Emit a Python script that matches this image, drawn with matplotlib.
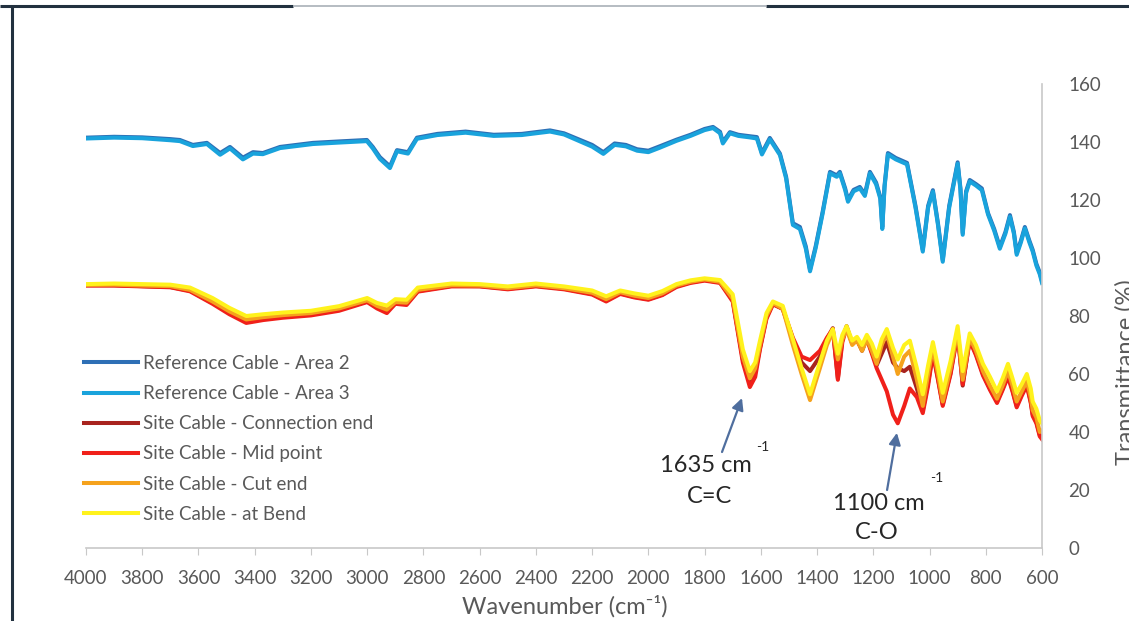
import matplotlib
matplotlib.use("Agg")
import matplotlib.pyplot as plt
from matplotlib.lines import Line2D

plt.rcParams['font.family'] = ['Lato', 'DejaVu Sans']

# FTIR spectra: reference cable areas
wn_ref = [4000, 3900, 3800, 3700, 3666, 3620, 3570, 3523, 3488, 3442,
          3406, 3371, 3310, 3193, 3100, 3001, 2980, 2955, 2919, 2894,
          2855, 2823, 2750, 2650, 2550, 2450, 2350, 2300, 2250, 2200,
          2160, 2120, 2080, 2040, 2000, 1960, 1900, 1850, 1800, 1770,
          1745, 1735, 1710, 1680, 1640, 1614, 1596, 1568, 1532, 1510,
          1486, 1461, 1440, 1425, 1405, 1380, 1354, 1330, 1319, 1300,
          1290, 1270, 1248, 1230, 1212, 1190, 1175, 1168, 1160, 1148,
          1120, 1080, 1050, 1024, 1005, 988, 970, 953, 930, 910,
          900, 890, 882, 870, 857, 835, 814, 792, 770, 750,
          730, 714, 700, 690, 675, 661, 645, 633, 620, 608,
          600]

ref_area2 = [141.5, 141.8, 141.6, 141.0, 140.7, 139.0, 139.7, 136.2, 138.3, 134.6,
             136.5, 136.2, 138.3, 139.7, 140.2, 140.7, 138.3, 134.8, 131.6, 137.2,
             136.5, 141.5, 142.8, 143.6, 142.5, 142.8, 144.0, 143.0, 141.0, 139.0,
             136.5, 139.5, 139.0, 137.5, 137.0, 138.5, 140.8, 142.5, 144.5, 145.2,
             143.5, 140.0, 143.4, 142.5, 142.0, 141.7, 136.2, 141.4, 136.0, 128.0,
             112.0, 110.7, 104.0, 96.0, 104.0, 116.0, 129.7, 128.5, 129.7, 124.0,
             120.0, 123.5, 124.5, 122.0, 129.7, 126.0, 121.0, 110.7, 125.0, 136.2,
             134.5, 132.8, 118.0, 102.8, 118.0, 123.4, 112.0, 99.3, 118.0, 128.0,
             133.0, 124.0, 108.6, 123.0, 126.9, 125.5, 124.0, 115.5, 110.0, 103.8,
             109.0, 114.8, 109.0, 101.7, 106.0, 110.7, 106.0, 102.8, 98.0, 95.0,
             92.0]

ref_area3 = [141.2, 141.5, 141.3, 140.6, 140.3, 138.6, 139.3, 135.6, 137.8, 134.0,
             136.0, 135.8, 137.9, 139.3, 139.8, 140.3, 137.8, 134.2, 131.0, 136.8,
             136.0, 141.1, 142.4, 143.2, 142.1, 142.4, 143.6, 142.6, 140.5, 138.4,
             135.9, 139.0, 138.5, 137.0, 136.5, 138.0, 140.4, 142.1, 144.1, 144.8,
             143.0, 139.5, 143.0, 142.1, 141.6, 141.2, 135.7, 140.9, 135.5, 127.4,
             111.4, 110.0, 103.2, 95.4, 103.4, 115.4, 129.2, 128.0, 129.2, 123.4,
             119.4, 123.0, 124.0, 121.4, 129.2, 125.4, 120.4, 110.0, 124.4, 135.7,
             134.0, 132.3, 117.4, 102.2, 117.4, 122.9, 111.4, 98.7, 117.4, 127.4,
             132.5, 123.4, 108.0, 122.4, 126.4, 125.0, 123.4, 115.0, 109.4, 103.2,
             108.4, 114.2, 108.4, 101.1, 105.4, 110.2, 105.4, 102.2, 97.4, 94.4,
             91.4]

# FTIR spectra: site cable samples
wn_site = [4000, 3900, 3800, 3700, 3630, 3550, 3490, 3430, 3370, 3300,
           3200, 3100, 3000, 2965, 2930, 2900, 2860, 2820, 2700, 2600,
           2500, 2400, 2300, 2200, 2150, 2100, 2050, 2000, 1950, 1900,
           1850, 1800, 1745, 1700, 1664, 1639, 1620, 1603, 1580, 1557,
           1522, 1486, 1455, 1425, 1390, 1365, 1344, 1326, 1310, 1295,
           1275, 1258, 1240, 1223, 1205, 1188, 1170, 1152, 1130, 1113,
           1090, 1070, 1045, 1024, 1005, 988, 970, 953, 925, 900,
           882, 857, 835, 810, 785, 760, 740, 721, 705, 690,
           672, 654, 640, 633, 620, 608, 600]

site_connection_end = [90.6, 90.6, 90.3, 90.0, 88.7, 84.5, 81.0, 78.2, 79.0, 79.8,
                       80.5, 82.2, 85.0, 83.0, 81.6, 84.4, 84.2, 88.6, 90.4, 90.3,
                       89.4, 90.4, 89.4, 87.6, 85.4, 87.8, 86.6, 85.8, 87.4, 90.2,
                       91.6, 92.4, 91.6, 85.5, 65.0, 56.8, 60.5, 69.0, 79.5, 84.2,
                       82.4, 72.0, 64.0, 61.0, 66.0, 72.0, 75.8, 58.5, 72.0, 76.5,
                       70.5, 72.0, 68.0, 72.5, 67.5, 63.0, 67.0, 71.0, 64.0, 62.0,
                       61.0, 62.5, 55.0, 47.5, 57.0, 67.5, 58.5, 49.5, 60.5, 74.5,
                       56.0, 72.0, 67.0, 60.0, 55.0, 50.5, 55.0, 60.0, 54.5, 49.0,
                       53.0, 56.5, 50.5, 46.0, 43.5, 39.0, 38.0]

site_mid_point = [90.5, 90.5, 90.2, 89.9, 88.5, 84.2, 80.6, 77.6, 78.6, 79.4,
                  80.2, 81.8, 84.8, 82.6, 81.0, 84.2, 83.8, 88.4, 90.2, 90.2,
                  89.2, 90.2, 89.2, 87.4, 85.0, 87.6, 86.4, 85.6, 87.2, 90.0,
                  91.4, 92.2, 91.4, 85.0, 64.0, 55.5, 59.0, 68.5, 79.0, 84.0,
                  82.5, 72.5, 66.0, 64.8, 68.0, 72.5, 75.5, 58.0, 71.0, 76.0,
                  70.5, 71.5, 68.5, 72.0, 67.0, 62.0, 58.0, 54.0, 46.0, 43.0,
                  49.0, 55.0, 52.0, 46.5, 56.0, 67.0, 58.0, 49.0, 60.0, 74.0,
                  56.5, 71.5, 66.5, 59.5, 54.5, 50.0, 54.5, 59.0, 54.0, 48.5,
                  52.5, 56.0, 50.0, 45.5, 43.0, 38.5, 37.5]

site_cut_end = [90.7, 90.8, 90.5, 90.3, 89.0, 85.0, 81.6, 78.8, 79.6, 80.3,
                81.0, 82.6, 85.4, 83.5, 82.2, 84.8, 84.6, 89.0, 90.6, 90.5,
                89.6, 90.6, 89.6, 88.0, 85.8, 88.2, 87.0, 86.2, 87.8, 90.5,
                91.8, 92.6, 91.8, 86.0, 66.0, 58.5, 62.0, 70.0, 80.0, 84.5,
                82.5, 70.0, 60.0, 51.0, 62.0, 70.0, 74.5, 65.0, 72.0, 75.5,
                70.0, 71.7, 68.0, 72.0, 68.0, 63.5, 70.0, 74.0, 66.0, 60.0,
                66.0, 68.0, 58.0, 49.0, 60.0, 69.0, 60.0, 50.5, 62.0, 75.0,
                58.0, 72.5, 68.0, 61.0, 56.0, 51.5, 56.0, 61.0, 56.0, 50.5,
                54.0, 57.5, 52.0, 47.5, 45.0, 40.0, 40.5]

site_at_bend = [91.0, 91.2, 91.0, 90.8, 89.8, 86.2, 82.8, 80.0, 80.6, 81.2,
                81.8, 83.4, 86.2, 84.5, 83.6, 85.8, 85.6, 89.8, 91.2, 91.0,
                90.2, 91.2, 90.2, 88.8, 86.8, 88.8, 87.8, 87.0, 88.6, 91.0,
                92.3, 93.0, 92.4, 87.5, 68.5, 61.0, 64.0, 71.5, 81.0, 85.0,
                83.5, 72.0, 62.0, 53.0, 64.0, 71.5, 75.5, 67.0, 73.5, 76.5,
                71.5, 72.8, 70.0, 73.5, 70.5, 66.0, 72.0, 75.5, 69.0, 65.0,
                70.0, 71.5, 62.0, 53.0, 63.0, 71.0, 62.5, 53.5, 64.5, 76.5,
                61.0, 74.0, 70.0, 63.5, 59.0, 54.0, 58.5, 63.5, 58.5, 53.5,
                56.5, 60.0, 55.0, 50.5, 48.0, 44.0, 43.0]

series_labels = ["Reference Cable - Area 2", "Reference Cable - Area 3",
                 "Site Cable - Connection end", "Site Cable - Mid point",
                 "Site Cable - Cut end", "Site Cable - at Bend"]
series_colors = ["#2e6fb5", "#19a3dc", "#a8231e", "#f0201a", "#f5a21c", "#fff21c"]

x_ticks = list(range(4000, 599, -200))
y_ticks = list(range(0, 161, 20))

W, H = 1129, 621
fig = plt.figure(figsize=(W / 100, H / 100), dpi=100)
fig.patch.set_facecolor("white")

ax = fig.add_axes([86 / W, (H - 548) / H, 956 / W, 464 / H])

series = [(wn_ref, ref_area2), (wn_ref, ref_area3),
          (wn_site, site_connection_end), (wn_site, site_mid_point),
          (wn_site, site_cut_end), (wn_site, site_at_bend)]
for (xs, ys), lab, col in zip(series, series_labels, series_colors):
    ax.plot(xs, ys, color=col, lw=2.9, label=lab, solid_joinstyle="round")

ax.set_xlim(4000, 600)
ax.set_ylim(0, 160)
ax.set_xticks(x_ticks)
ax.set_yticks(y_ticks)

grey = "#595959"
for side in ("top", "left"):
    ax.spines[side].set_visible(False)
for side in ("bottom", "right"):
    ax.spines[side].set_color("#c8c8c8")
    ax.spines[side].set_linewidth(1.2)

ax.yaxis.tick_right()
ax.tick_params(axis="y", length=0, pad=19, labelsize=13.5, labelcolor=grey)
ax.tick_params(axis="x", direction="out", length=5, color="#c8c8c8",
               pad=11, labelsize=13.5, labelcolor=grey)

ax.set_xlabel("Wavenumber (cm⁻¹)", fontsize=17, color=grey)
ax.xaxis.label.set_va("center")
ax.xaxis.set_label_coords(0.501, -0.125)

fig.text(1126 / W, 1 - 372 / H, "Transmittance (%)", rotation=90,
         ha="center", va="center", fontsize=17, color=grey)

leg = ax.legend(loc="upper left", bbox_to_anchor=(84 / W, 1 - 355 / H),
                bbox_transform=fig.transFigure, frameon=False,
                fontsize=13.5, handlelength=2.9, handletextpad=0.25,
                labelspacing=0.7, borderpad=0, borderaxespad=0)
for t in leg.get_texts():
    t.set_color(grey)

# Peak assignments
arrow_col = "#4f6e9e"
ax.annotate("", xy=(1667, 51.7), xytext=(1738, 33.1),
            arrowprops=dict(arrowstyle="-|>,head_length=0.7,head_width=0.35",
                            color=arrow_col, lw=1.6, shrinkA=0, shrinkB=0))
ax.annotate("", xy=(1116, 39.7), xytext=(1151, 20.0),
            arrowprops=dict(arrowstyle="-|>,head_length=0.7,head_width=0.35",
                            color=arrow_col, lw=1.6, shrinkA=0, shrinkB=0))

txt_col = "#262626"
ax.text(1795, 28.6, "1635 cm", ha="center", va="center", fontsize=17, color=txt_col)
ax.text(1592, 34.8, "-1", ha="center", va="center", fontsize=10, color=txt_col)
ax.text(1784, 17.6, "C=C", ha="center", va="center", fontsize=17, color=txt_col)
ax.text(1180, 15.5, "1100 cm", ha="center", va="center", fontsize=17, color=txt_col)
ax.text(975, 24.1, "-1", ha="center", va="center", fontsize=10, color=txt_col)
ax.text(1187, 5.5, "C-O", ha="center", va="center", fontsize=17, color=txt_col)

# Outer frame
dark = "#22313f"
def fig_line(x0, y0, x1, y1, color, lw):
    fig.add_artist(Line2D([x0 / W, x1 / W], [1 - y0 / H, 1 - y1 / H],
                          transform=fig.transFigure, color=color, lw=lw,
                          solid_capstyle="butt"))

fig_line(12, 6, 12, H, dark, 2.2)
fig_line(0, 6, 293, 6, dark, 2.2)
fig_line(293, 6, 766, 6, "#a9b0b7", 1.2)
fig_line(766, 6, W, 6, dark, 2.2)

fig.savefig("out.png", dpi=100)
